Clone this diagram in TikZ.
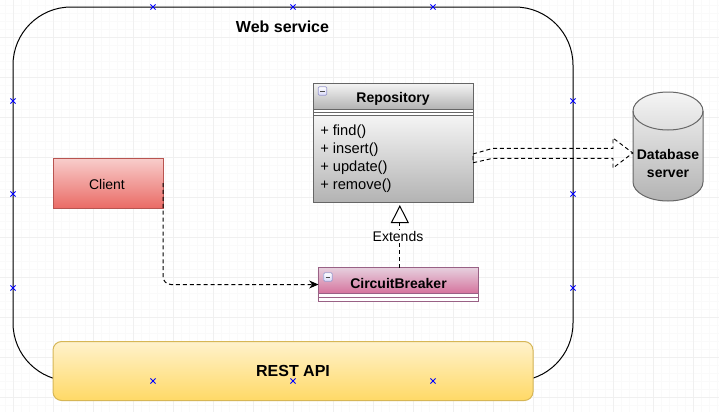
\documentclass[tikz,border=0pt]{standalone}
\usepackage{fontspec}
\setmainfont{Liberation Sans}
\usetikzlibrary{arrows.meta,shapes.misc}

\definecolor{pinkline}{HTML}{996185}
\definecolor{pinktop}{HTML}{E6D0DE}
\definecolor{pinkbottom}{HTML}{D5739D}
\definecolor{redline}{HTML}{B85450}
\definecolor{redtop}{HTML}{F8CECC}
\definecolor{redbottom}{HTML}{EA6B66}
\definecolor{goldline}{HTML}{D6B656}
\definecolor{goldtop}{HTML}{FFF2CC}
\definecolor{goldbottom}{HTML}{FFD966}
\definecolor{greytop}{HTML}{F5F5F5}
\definecolor{greybottom}{HTML}{B3B3B3}

\tikzset{
  box/.style={draw,inner sep=0pt,outer sep=0pt,line width=0.75pt},
  label10/.style={font=\fontsize{10.5}{13.5}\selectfont},
  label11/.style={font=\fontsize{11}{13.5}\selectfont},
  title10/.style={font=\fontsize{10.5}{13.5}\selectfont\bfseries},
  title12/.style={font=\fontsize{12}{14}\selectfont\bfseries},
  greybox/.style={box,draw=black!60,top color=greytop,bottom color=greybottom},
  pinkbox/.style={box,draw=pinkline,top color=pinktop,bottom color=pinkbottom},
  minusbox/.style={box,draw=black!50!blue!40,line width=0.6pt,rounded corners=1pt,
    minimum width=6.5pt,minimum height=6.5pt,top color=white,bottom color=black!15!blue!15},
  crossmark/.style={cross out,draw=blue,line width=0.55pt,inner sep=0pt,outer sep=0pt,
    minimum width=3.8pt,minimum height=3.8pt},
  dashline/.style={dashed,dash pattern=on 3pt off 2.2pt,line width=0.75pt}
}

\begin{document}
\begin{tikzpicture}[x=0.75pt,y=-0.75pt]
  \useasboundingbox (0,0) rectangle (719,412);
  \fill[white] (0,0) rectangle (719,412);
  \foreach \x in {5,13,...,717} {
    \draw[black!2,line width=0.75pt] (\x,0) -- (\x,412);
  }
  \foreach \y in {5,13,...,410} {
    \draw[black!2,line width=0.75pt] (0,\y) -- (719,\y);
  }
  \foreach \x in {13,53,...,693} {
    \draw[black!6,line width=0.75pt] (\x,0) -- (\x,412);
  }
  \foreach \y in {37,77,...,397} {
    \draw[black!6,line width=0.75pt] (0,\y) -- (719,\y);
  }

  \node[box,minimum width=420pt,minimum height=280.5pt,rounded corners=43.5pt] (webservice) at (293,194) {};
  \node[title12] (webtitle) at (282.5,27) {Web service};

  \node[box,draw=black!60,fill=white,minimum width=120pt,minimum height=89.25pt] (repo) at (393,142.5) {};
  \node[greybox,anchor=north,minimum width=120pt,minimum height=19.5pt] (repohead) at (repo.north) {};
  \node[greybox,anchor=south,minimum width=120pt,minimum height=65.25pt] (repobody) at (repo.south) {};
  \draw[black!60,line width=0.75pt] (313,112.3) -- (473,112.3);
  \node[minusbox] (repominus) at (322.5,91) {};
  \draw[black!70,line width=0.75pt] ([xshift=1.5pt]repominus.west) -- ([xshift=-1.5pt]repominus.east);
  \node[title10] (repotitle) at (393,99) {Repository};
  \node[label11,anchor=west,align=left,inner sep=0pt] (repomethods) at (320,159) {+ find()\\+ insert()\\+ update()\\+ remove()};

  \node[box,draw=pinkline,fill=white,minimum width=120pt,minimum height=25.5pt] (breaker) at (398.5,284.5) {};
  \node[pinkbox,anchor=north,minimum width=120pt,minimum height=19.5pt] (breakerhead) at (breaker.north) {};
  \draw[pinkline,line width=0.75pt] (318.5,297.5) -- (478.5,297.5);
  \node[minusbox] (breakerminus) at (328,277) {};
  \draw[black!70,line width=0.75pt] ([xshift=1.5pt]breakerminus.west) -- ([xshift=-1.5pt]breakerminus.east);
  \node[title10] (breakertitle) at (398.5,283) {CircuitBreaker};

  \node[box,draw=redline,top color=redtop,bottom color=redbottom,minimum width=82.5pt,minimum height=37.5pt] (client) at (108,183) {};
  \node[label10] (clienttext) at (107,184) {Client};

  \draw[draw=black!60,line width=0.75pt,top color=greytop,bottom color=greybottom]
    (633,111) arc (180:0:26.25pt and 14.25pt) -- (703,182) arc (0:-180:26.25pt and 14.25pt) -- cycle;
  \draw[black!60,line width=0.75pt] (633,111) arc (180:360:26.25pt and 14.25pt);
  \node[title10,align=center,inner sep=0pt,minimum width=52.5pt] (db) at (668,163) {Database\\server};

  \node[box,draw=goldline,rounded corners=6.5pt,top color=goldtop,bottom color=goldbottom,
    minimum width=360pt,minimum height=44.25pt,title12] (restapi) at (293,371) {REST API};

  \draw[dashline,-{Stealth[length=7pt,width=6pt]},rounded corners=6pt] (client.east) |- (breaker.west);
  \draw[dashline,shorten >=2.25pt,-{Triangle[open,length=13.5pt,width=13.5pt]}] ([xshift=1pt]breaker.north) -- ([xshift=1pt]breaker.north |- repo.south);
  \node[label10,fill=white,inner sep=1pt] (extendslabel) at (398,236) {Extends};

  \coordinate (flowtop) at ([yshift=-8.6pt]repo.east);
  \coordinate (flowbottom) at ([yshift=-15.2pt]repo.east);
  \coordinate (flowtip) at ([yshift=7.5pt]db.west);
  \draw[dashline,line width=0.7pt] (flowtop) -- (493,148.3) -- (613,148.3) -- (613,138) -- (flowtip)
    -- (613,168) -- (613,158.3) -- (493,158.3) -- (flowbottom) -- cycle;

  \foreach \x in {153,293,433} {
    \node[crossmark] (marktop\x) at (\x,7) {};
    \node[crossmark] (markbottom\x) at (\x,381) {};
  }
  \foreach \y in {101,194,288} {
    \node[crossmark] (markleft\y) at (13,\y) {};
    \node[crossmark] (markright\y) at (573,\y) {};
  }
\end{tikzpicture}
\end{document}
